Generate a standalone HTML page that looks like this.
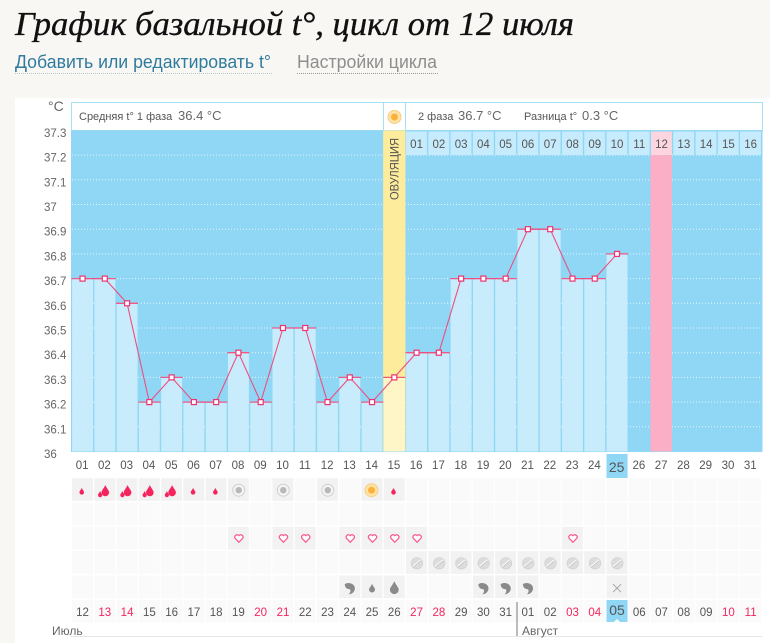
<!DOCTYPE html>
<html lang="ru">
<head>
<meta charset="utf-8">
<title>График базальной t°</title>
<style>
html,body{margin:0;padding:0;background:#f9f7f4;}
body{width:770px;height:643px;overflow:hidden;position:relative;}
svg{position:absolute;left:0;top:0;}
text{font-family:"Liberation Sans","DejaVu Sans",sans-serif;}
</style>
</head>
<body>
<svg id="chart" width="770" height="643" viewBox="0 0 770 643" xmlns="http://www.w3.org/2000/svg">
  <text x="15" y="35" textLength="559" lengthAdjust="spacingAndGlyphs" style="font-family:'Liberation Serif','DejaVu Serif',serif;font-style:italic;font-size:34px;fill:#111;stroke:#111;stroke-width:.35px">График базальной t°, цикл от 12 июля</text>
  <text x="15" y="68" textLength="256" lengthAdjust="spacingAndGlyphs" style="font-size:18px;fill:#2f7b9e">Добавить или редактировать t°</text>
  <line x1="15" x2="272" y1="73.5" y2="73.5" stroke="#b5c5cc" stroke-dasharray="1 1"/>
  <text x="297" y="68" textLength="140" lengthAdjust="spacingAndGlyphs" style="font-size:18px;fill:#8e8e8e">Настройки цикла</text>
  <line x1="297" x2="438" y1="73.5" y2="73.5" stroke="#999" stroke-dasharray="1 1"/>
  <rect x="15" y="98" width="755" height="545" fill="#fff"/>
  <g id="layer"></g>
</svg>
<script>
// Chart data
const cycleDays = ["01","02","03","04","05","06","07","08","09","10","11","12","13","14","15","16","17","18","19","20","21","22","23","24","25","26","27","28","29","30","31"];
const temperatures = [36.7,36.7,36.6,36.2,36.3,36.2,36.2,36.4,36.2,36.5,36.5,36.2,36.3,36.2,36.3,36.4,36.4,36.7,36.7,36.7,36.9,36.9,36.7,36.7,36.8];
const yTicks = ["36","36.1","36.2","36.3","36.4","36.5","36.6","36.7","36.8","36.9","37","37.1","37.2","37.3"];
const phaseTwoDays = ["01","02","03","04","05","06","07","08","09","10","11","12","13","14","15","16"];
const calendarDates = ["12","13","14","15","16","17","18","19","20","21","22","23","24","25","26","27","28","29","30","31","01","02","03","04","05","06","07","08","09","10","11"];
const redDates = [1,2,8,9,15,16,22,23,29,30];
const ovulationDay = 15;
const predictedDay = 27;
const todayDay = 25;
const bleedingRow = [1,2,2,2,2,1,1,"c",0,"c",0,"c",0,"s",1];
const heartDays = [8,10,11,13,14,15,16,23];
const pillDays = [16,17,18,19,20,21,22,23,24,25];
const mucusRow = {13:"comma",14:"small",15:"big",19:"comma",20:"comma",21:"comma",25:"x"};

const svg = document.getElementById('layer');
const NS = 'http://www.w3.org/2000/svg';
const left = 71.4, colW = 22.27;
const y0 = 451.5, perDeg = 247;
const xL = d => left + (d - 1) * colW;
const xC = d => xL(d) + colW / 2;
const yT = t => y0 - (t - 36) * perDeg;
const rowTop = r => 478.2 + r * 24.3;

function mk(tag, attrs, parent, txt) {
  const e = document.createElementNS(NS, tag);
  for (const k in attrs) e.setAttribute(k, attrs[k]);
  if (txt !== undefined) e.textContent = txt;
  (parent || svg).appendChild(e);
  return e;
}
function label(x, y, s, size, fill, anchor) {
  return mk('text', {x: x, y: y, 'font-size': size, fill: fill, 'text-anchor': anchor || 'middle'}, svg, s);
}

// Header
let n;
n = mk('rect', {x: 71.5, y: 102.5, width: 312, height: 28, fill: '#fff', stroke: '#a6e0f8'});


n = mk('rect', {x: 383.5, y: 102.5, width: 22, height: 28, fill: '#fff', stroke: '#a6e0f8'});


n = mk('rect', {x: 405.5, y: 102.5, width: 357, height: 28, fill: '#fff', stroke: '#a6e0f8'});


n = label(48, 111, '°C', 14, '#666', 'start');


n = label(79, 120, 'Средняя t° 1 фаза', 11, '#555', 'start');


n = label(178, 120, '36.4 °C', 13, '#666', 'start');


n = label(418, 120, '2 фаза', 11, '#555', 'start');


n = label(458, 120, '36.7 °C', 13, '#666', 'start');


n = label(524, 120, 'Разница t°', 11, '#555', 'start');


n = label(582, 120, '0.3 °C', 13, '#666', 'start');



function sun(cx, cy, name) {
  const g = mk('g', {});
  
  
  mk('circle', {cx: cx, cy: cy, r: 6.5, fill: '#fde3a8', stroke: '#f8cf80', 'stroke-width': 1}, g);
  mk('circle', {cx: cx, cy: cy, r: 3.5, fill: '#fbb13c'}, g);
}
sun(394.5, 117, 'ovulation-sun-icon');

// Plot background
n = mk('rect', {x: 71, y: yT(37.3), width: 691.5, height: y0 - yT(37.3) + 0.5, fill: '#90d7f5'});



// Grid lines and y ticks
yTicks.forEach(function (t) {
  const v = parseFloat(t), y = yT(v);
  if (v > 36 && v < 37.3) {
    const g = mk('line', {x1: 72, x2: 762, y1: y, y2: y, stroke: '#e4f6fd', 'stroke-dasharray': '1 2'});
    
    
  }
  const l = label(44, y + 6.5, t, 11.5, '#666', 'start');
  
  
});

// Ovulation column
n = mk('rect', {x: xL(ovulationDay), y: yT(37.3), width: colW, height: y0 - yT(37.3), fill: '#fdec9b'});


n = mk('text', {transform: 'translate(' + (xC(ovulationDay) + 4) + ',200) rotate(-90)', 'font-size': 11.5, fill: '#555', textLength: 62, lengthAdjust: 'spacingAndGlyphs'}, svg, 'ОВУЛЯЦИЯ');



// Predicted period column
n = mk('rect', {x: xL(predictedDay), y: yT(37.2), width: colW - 0.8, height: y0 - yT(37.2), fill: '#fbafc6'});



// Phase-two day strip
phaseTwoDays.forEach(function (d, i) {
  const col = i + 16;
  const pink = col === predictedDay;
  const c = mk('rect', {x: xL(col) + 0.6, y: 131.5, width: colW - 1.4, height: 23.5, fill: pink ? '#fcd5e1' : '#c6ebfc'});
  
  
  const l = label(xC(col), 148, d, 11.5, '#555');
  
  
});

// Bars
temperatures.forEach(function (t, i) {
  const d = i + 1;
  const b = mk('rect', {x: xL(d) + 0.7, y: yT(t), width: colW - 1.4, height: y0 - yT(t), fill: d === ovulationDay ? '#fff6c8' : '#c9ecfd'});
  
  
});
temperatures.forEach(function (t, i) {
  const d = i + 1;
  const c = mk('line', {x1: xL(d), x2: xL(d) + colW, y1: yT(t), y2: yT(t), stroke: '#ec5b87', 'stroke-width': 1.3});
  
  
});

// Temperature line
const linePts = temperatures.map(function (t, i) { return xC(i + 1) + ',' + yT(t); }).join(' ');
n = mk('polyline', {points: linePts, fill: 'none', stroke: '#ec4f80', 'stroke-width': 1.1});


temperatures.forEach(function (t, i) {
  const m = mk('rect', {x: xC(i + 1) - 2.5, y: yT(t) - 2.5, width: 5, height: 5, fill: '#fff', stroke: '#f0336f', 'stroke-width': 1.2});
  
  
});

// Today highlights
n = mk('rect', {x: xL(todayDay) + 0.6, y: 454, width: colW - 1.2, height: 24, fill: '#90d7f5'});



// Cycle day labels
cycleDays.forEach(function (d, i) {
  const col = i + 1;
  const today = col === todayDay;
  const l = label(xC(col) - 0.4, today ? 472 : 469, d, today ? 14 : 11.5, '#555');
  
  
});

// Symptom rows
const cellFilled = {};
bleedingRow.forEach(function (v, i) { if (v) cellFilled['0-' + (i + 1)] = 1; });
heartDays.forEach(function (d) { cellFilled['2-' + d] = 1; });
pillDays.forEach(function (d) { cellFilled['3-' + d] = 1; });
Object.keys(mucusRow).forEach(function (d) { cellFilled['4-' + d] = 1; });
for (let r = 0; r < 6; r++) {
  for (let c = 1; c <= 31; c++) {
    const cell = mk('rect', {x: xL(c) + 0.6, y: rowTop(r), width: colW - 1.3, height: 22.7, fill: cellFilled[r + '-' + c] ? '#f2f2f2' : '#fafafa'});
    
    
  }
}

function drop(cx, cy, s, fill, name) {
  const p = mk('path', {d: 'M' + cx + ' ' + (cy - 1.5 * s) + 'C' + (cx + 0.35 * s) + ' ' + (cy - 0.6 * s) + ' ' + (cx + s) + ' ' + (cy - 0.1 * s) + ' ' + (cx + s) + ' ' + (cy + 0.45 * s) + 'A' + s + ' ' + s + ' 0 0 1 ' + (cx - s) + ' ' + (cy + 0.45 * s) + 'C' + (cx - s) + ' ' + (cy - 0.1 * s) + ' ' + (cx - 0.35 * s) + ' ' + (cy - 0.6 * s) + ' ' + cx + ' ' + (cy - 1.5 * s) + 'Z', fill: fill});
  
  
}
const bleedY = rowTop(0) + 11.5;
bleedingRow.forEach(function (v, i) {
  const d = i + 1, x = xC(d);
  if (v === 1) {
    drop(x - 0.8, bleedY + 1.6, 2.3, '#f5245f', 'light-flow-icon');
  } else if (v === 2) {
    drop(x + 0.5, bleedY + 1, 3.8, '#f5245f', 'heavy-flow-icon');
    drop(x - 4.7, bleedY + 4.5, 2.1, '#f5245f', 'heavy-flow-small-drop');
  } else if (v === 'c') {
    const g = mk('g', {});
    
    
    mk('circle', {cx: x + 0.3, cy: bleedY + 0.5, r: 6, fill: '#f4f4f4', stroke: '#cfcfcf', 'stroke-width': 1}, g);
    mk('circle', {cx: x + 0.3, cy: bleedY + 0.5, r: 3.2, fill: '#b8b8b8'}, g);
  } else if (v === 's') {
    sun(x - 0.5, bleedY + 0.5, 'test-positive-icon');
  }
});

heartDays.forEach(function (d) {
  const x = xC(d) + 0.5, y = rowTop(2) + 11;
  const h = mk('path', {d: 'M' + x + ' ' + (y + 4.5) + 'L' + (x - 4) + ' ' + (y + 0.3) + 'A2.4 2.4 0 0 1 ' + x + ' ' + (y - 2.2) + 'A2.4 2.4 0 0 1 ' + (x + 4) + ' ' + (y + 0.3) + 'Z', fill: '#fff', stroke: '#f8588a', 'stroke-width': 1.2});
  
  
});

pillDays.forEach(function (d) {
  const x = xC(d) + 0.3, y = rowTop(3) + 12.2;
  const g = mk('g', {});
  
  
  mk('circle', {cx: x, cy: y, r: 5.8, fill: '#dcdcdc', stroke: '#cdcdcd', 'stroke-width': 0.6}, g);
  mk('line', {x1: x - 4, y1: y + 3.4, x2: x + 4, y2: y - 3.4, stroke: '#fbfbfb', 'stroke-width': 1.6}, g);
  mk('line', {x1: x - 3.6, y1: y + 4, x2: x + 4, y2: y - 2.6, stroke: '#b0b0b0', 'stroke-width': 0.6}, g);
});

Object.keys(mucusRow).forEach(function (k) {
  const d = +k, kind = mucusRow[k], x = xC(d), y = rowTop(4) + 12.8;
  if (kind === 'comma') {
    const p = mk('path', {d: 'M' + (x - 5) + ' ' + (y - 4) + 'C' + (x - 1) + ' ' + (y - 7) + ' ' + (x + 6) + ' ' + (y - 4) + ' ' + (x + 5) + ' ' + (y + 1) + 'C' + (x + 4.5) + ' ' + (y + 4) + ' ' + (x + 2) + ' ' + (y + 6) + ' ' + (x - 1) + ' ' + (y + 6) + 'C' + (x + 1) + ' ' + (y + 4) + ' ' + (x + 1) + ' ' + (y + 2) + ' ' + x + ' ' + (y + 1) + 'C' + (x - 3) + ' ' + (y + 1) + ' ' + (x - 5) + ' ' + (y - 1) + ' ' + (x - 5) + ' ' + (y - 4) + 'Z', fill: '#8a8a8a'});
    
    
  } else if (kind === 'small') {
    drop(x, y, 3, '#8a8a8a', 'discharge-small-drop-icon');
  } else if (kind === 'big') {
    drop(x, y - 0.5, 4.4, '#8a8a8a', 'discharge-large-drop-icon');
  } else {
    const g = mk('g', {stroke: '#a5a5a5', 'stroke-width': 1});
    
    
    mk('line', {x1: x - 4, y1: y - 4, x2: x + 4, y2: y + 4}, g);
    mk('line', {x1: x + 4, y1: y - 4, x2: x - 4, y2: y + 4}, g);
  }
});

// Calendar dates
n = mk('rect', {x: xL(todayDay) + 0.6, y: 600, width: colW - 1.2, height: 22, fill: '#90d7f5'});


n = mk('path', {d: 'M' + (xC(todayDay) - 3) + ' 622L' + xC(todayDay) + ' 619L' + (xC(todayDay) + 3) + ' 622Z', fill: '#fff'});


calendarDates.forEach(function (d, i) {
  const col = i + 1;
  const today = col === todayDay;
  const l = label(xC(col), today ? 615 : 616, d, today ? 14 : 11.5, redDates.indexOf(i) >= 0 ? '#f5245f' : '#555');
  
  
});

// Month axis
n = mk('line', {x1: 70, x2: 762, y1: 636.5, y2: 636.5, stroke: '#e6e6e6'});


n = mk('line', {x1: 517, x2: 517, y1: 602, y2: 636, stroke: '#777', 'stroke-width': 1});


n = label(52, 635, 'Июль', 12, '#666', 'start');


n = label(522, 635, 'Август', 12, '#666', 'start');


</script>
</body>
</html>
